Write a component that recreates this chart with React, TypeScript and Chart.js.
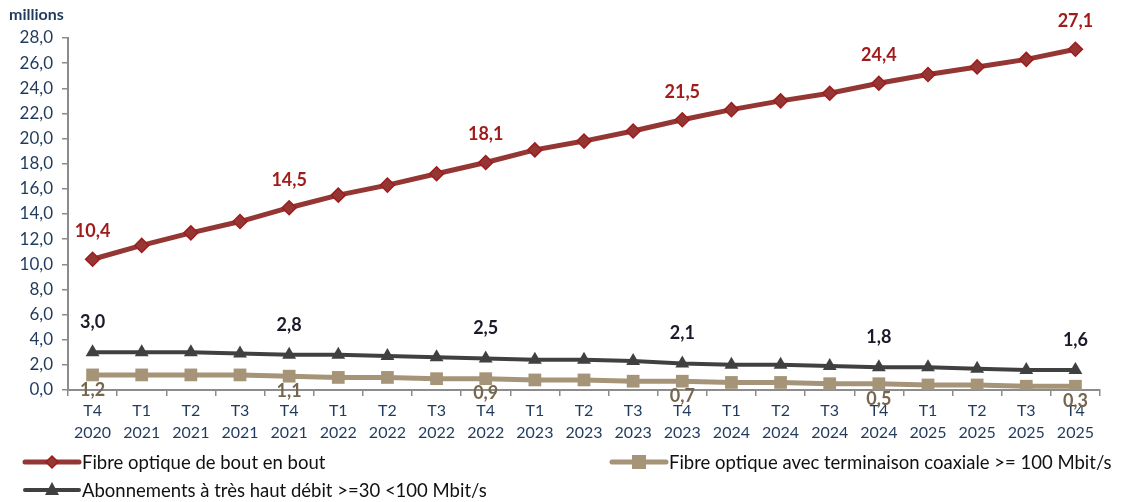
import React, { useEffect, useRef } from "react";
import { Chart, registerables } from "chart.js";

Chart.register(...registerables);

const quarters = ["T4","T1","T2","T3","T4","T1","T2","T3","T4","T1","T2","T3","T4","T1","T2","T3","T4","T1","T2","T3","T4"];
const years = ["2020","2021","2021","2021","2021","2022","2022","2022","2022","2023","2023","2023","2023","2024","2024","2024","2024","2025","2025","2025","2025"];

const fibreBoutEnBout = [10.4,11.5,12.5,13.4,14.5,15.5,16.3,17.2,18.1,19.1,19.8,20.6,21.5,22.3,23.0,23.6,24.4,25.1,25.7,26.3,27.1];
const fibreCoax = [1.2,1.2,1.2,1.2,1.1,1.0,1.0,0.9,0.9,0.8,0.8,0.7,0.7,0.6,0.6,0.5,0.5,0.4,0.4,0.3,0.3];
const abonnements30 = [3.0,3.0,3.0,2.9,2.8,2.8,2.7,2.6,2.5,2.4,2.4,2.3,2.1,2.0,2.0,1.9,1.8,1.8,1.7,1.6,1.6];

const labelIndices = [0,4,8,12,16,20];

const seriesNames = [
  "Fibre optique de bout en bout",
  "Fibre optique avec terminaison coaxiale >= 100 Mbit/s",
  "Abonnements à très haut débit >=30 <100 Mbit/s",
];

const FONT = "Lato, 'Open Sans', sans-serif";
const NAVY = "#1f3a5c";
const RED = "#943634";
const TAN = "#a69478";
const DARK = "#404040";

const fmt = (v: number) => v.toFixed(1).replace(".", ",");

export default function App() {
  const ref = useRef<HTMLCanvasElement | null>(null);

  useEffect(() => {
    document.body.style.margin = "0";
    const canvas = ref.current;
    if (!canvas) return;

    const labelPlugin = {
      id: "valueLabels",
      afterDatasetsDraw(chart: any) {
        const ctx = chart.ctx;
        ctx.save();
        ctx.textAlign = "center";
        ctx.textBaseline = "middle";
        const cfg = [
          { ds: 0, color: "#a01c1c", dy: -28, font: `bold 18px ${FONT}` },
          { ds: 1, color: "#76664e", dy: 15, font: `bold 18px ${FONT}` },
          { ds: 2, color: "#1a1a2a", dy: -30, font: `bold 18px ${FONT}` },
        ];
        cfg.forEach((c) => {
          const meta = chart.getDatasetMeta(c.ds);
          const data = chart.data.datasets[c.ds].data as number[];
          labelIndices.forEach((i) => {
            const pt = meta.data[i];
            ctx.font = c.font;
            ctx.fillStyle = c.color;
            ctx.fillText(fmt(data[i]), pt.x, pt.y + c.dy);
          });
        });
        ctx.font = `bold 16px ${FONT}`;
        ctx.fillStyle = NAVY;
        ctx.textAlign = "left";
        ctx.fillText("millions", 9, 15);
        ctx.restore();
      },
    };

    const legendPlugin = {
      id: "customLegend",
      afterDraw(chart: any) {
        const ctx = chart.ctx;
        ctx.save();
        const items = [
          { name: seriesNames[0], color: RED, x: 25, y: 462, marker: "diamond", lw: 5 },
          { name: seriesNames[1], color: TAN, x: 612, y: 462, marker: "square", lw: 5 },
          { name: seriesNames[2], color: DARK, x: 25, y: 490, marker: "triangle", lw: 4 },
        ];
        items.forEach((it) => {
          ctx.strokeStyle = it.color;
          ctx.lineWidth = it.lw;
          ctx.lineCap = "round";
          ctx.beginPath();
          ctx.moveTo(it.x, it.y);
          ctx.lineTo(it.x + 54, it.y);
          ctx.stroke();
          const mx = it.x + 27;
          const my = it.y;
          ctx.fillStyle = it.color;
          ctx.beginPath();
          if (it.marker === "diamond") {
            ctx.moveTo(mx, my - 6);
            ctx.lineTo(mx + 6, my);
            ctx.lineTo(mx, my + 6);
            ctx.lineTo(mx - 6, my);
            ctx.closePath();
            ctx.fill();
            ctx.strokeStyle = "#a01c1c";
            ctx.lineWidth = 1.5;
            ctx.stroke();
          } else if (it.marker === "square") {
            ctx.rect(mx - 7, my - 7, 14, 14);
            ctx.fill();
          } else {
            ctx.moveTo(mx, my - 8);
            ctx.lineTo(mx + 7, my + 5);
            ctx.lineTo(mx - 7, my + 5);
            ctx.closePath();
            ctx.fill();
          }
          ctx.font = `18.5px ${FONT}`;
          ctx.fillStyle = "#111";
          ctx.textAlign = "left";
          ctx.textBaseline = "middle";
          ctx.fillText(it.name, it.x + 57, it.y + 1);
        });
        ctx.restore();
      },
    };

    const chart = new Chart(canvas, {
      type: "line",
      data: {
        labels: quarters.map((q, i) => [q, years[i]]),
        datasets: [
          {
            label: seriesNames[0],
            data: fibreBoutEnBout,
            borderColor: RED,
            backgroundColor: RED,
            borderWidth: 5,
            pointStyle: "rectRot",
            pointRadius: 7,
            pointBackgroundColor: RED,
            pointBorderColor: "#a01c1c",
            pointBorderWidth: 1.5,
            tension: 0,
          },
          {
            label: seriesNames[1],
            data: fibreCoax,
            borderColor: TAN,
            backgroundColor: TAN,
            borderWidth: 5,
            pointStyle: "rect",
            pointRadius: 9,
            pointBackgroundColor: TAN,
            pointBorderColor: TAN,
            pointBorderWidth: 0,
            tension: 0,
          },
          {
            label: seriesNames[2],
            data: abonnements30,
            borderColor: DARK,
            backgroundColor: DARK,
            borderWidth: 4,
            pointStyle: "triangle",
            pointRadius: 8,
            pointBackgroundColor: DARK,
            pointBorderColor: DARK,
            pointBorderWidth: 0,
            tension: 0,
          },
        ],
      },
      options: {
        animation: false,
        responsive: false,
        maintainAspectRatio: false,
        layout: { padding: { left: 8, top: 38, right: 22, bottom: 60 } },
        plugins: {
          legend: { display: false },
          tooltip: { enabled: false },
          title: { display: false },
        },
        scales: {
          x: {
            type: "category",
            offset: true,
            afterFit: (s: any) => { s.height = 52; },
            grid: {
              display: true,
              offset: true,
              drawOnChartArea: false,
              drawTicks: true,
              tickLength: 6,
              color: "#8c8c8c",
              lineWidth: 1.5,
            },
            border: { display: true, color: "#8c8c8c", width: 2 },
            ticks: {
              color: NAVY,
              font: { family: FONT, size: 16, lineHeight: 1.35 },
              maxRotation: 0,
              autoSkip: false,
              padding: 4,
            },
          },
          y: {
            min: 0,
            max: 28,
            afterFit: (s: any) => { s.width = 60; },
            grid: {
              display: true,
              drawOnChartArea: false,
              drawTicks: true,
              tickLength: 6,
              color: "#8c8c8c",
              lineWidth: 1.5,
            },
            border: { display: true, color: "#8c8c8c", width: 2 },
            ticks: {
              stepSize: 2,
              color: NAVY,
              font: { family: FONT, size: 17 },
              padding: 9,
              callback: (v: any) => fmt(Number(v)),
            },
          },
        },
      },
      plugins: [labelPlugin, legendPlugin],
    });

    return () => chart.destroy();
  }, []);

  return (
    <div style={{ width: 1122, height: 502, position: "relative", background: "#fff" }}>
      <canvas ref={ref} width={1122} height={502} style={{ display: "block", width: 1122, height: 502 }} />
    </div>
  );
}
